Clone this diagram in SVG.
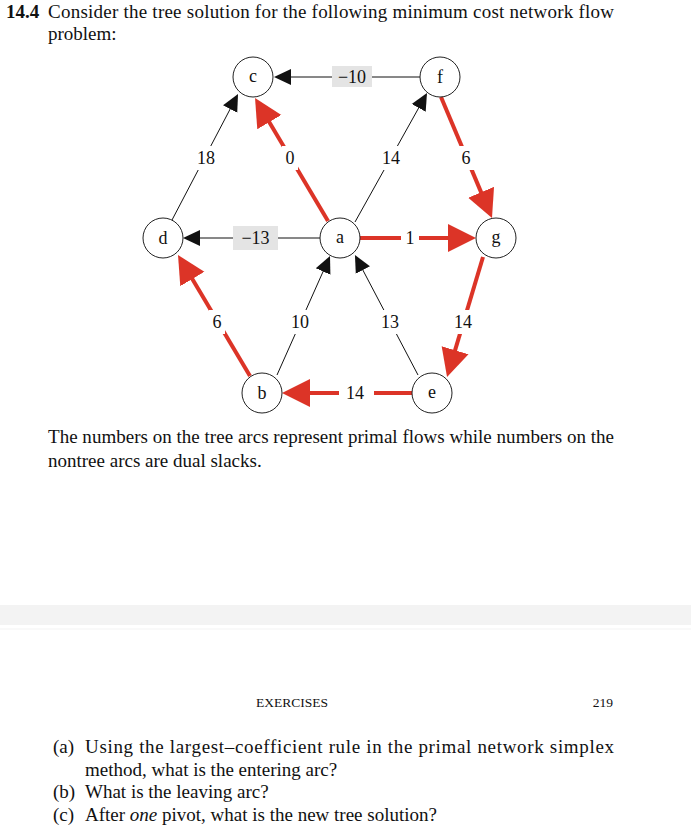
<svg xmlns="http://www.w3.org/2000/svg" width="691" height="828" viewBox="0 0 691 828">
<style>
text{font-family:"Liberation Serif","DejaVu Serif",serif;fill:#111;}
.body{font-size:19px;}
.lbl{font-size:18px;text-anchor:middle;}
.nd{font-size:18px;text-anchor:middle;}
.node circle{fill:#fff;stroke:#222;stroke-width:1;}
.blk{stroke:#111;stroke-width:1;fill:none;}
.red{stroke:#dc3427;stroke-width:4;fill:none;}
.bg{fill:#fff;}
.gbox{fill:#e4e4e4;}
</style>
<defs>
<marker id="ab" markerUnits="userSpaceOnUse" viewBox="0 -9 18 18" markerWidth="18" markerHeight="18" refX="1" refY="0" orient="auto">
<path d="M0,-8 L17,0 L0,8 z" fill="#111"/>
</marker>
<marker id="ar" markerUnits="userSpaceOnUse" viewBox="0 -15 30 30" markerWidth="30" markerHeight="30" refX="2" refY="0" orient="auto">
<path d="M0,-14 L28,0 L0,14 z" fill="#dc3427"/>
</marker>
</defs>
<rect width="691" height="828" fill="#fff"/>

<text class="body" x="6" y="18" font-weight="bold">14.4</text>
<text class="body" x="48" y="18" textLength="566" lengthAdjust="spacing">Consider the tree solution for the following minimum cost network flow</text>
<text class="body" x="48" y="40">problem:</text>

<g id="connectors">
<line class="blk" x1="172" y1="220" x2="230.6" y2="108.2" marker-end="url(#ab)"/>
<line class="red" x1="328" y1="221" x2="268.3" y2="120.4" marker-end="url(#ar)"/>
<line class="blk" x1="355" y1="222" x2="419.2" y2="107" marker-end="url(#ab)"/>
<line class="red" x1="441" y1="97" x2="481.9" y2="194.1" marker-end="url(#ar)"/>
<line class="blk" x1="420" y1="77" x2="290" y2="77" marker-end="url(#ab)"/>
<line class="blk" x1="320" y1="238" x2="199" y2="238" marker-end="url(#ab)"/>
<line class="red" x1="360" y1="238" x2="450" y2="238" marker-end="url(#ar)"/>
<line class="red" x1="250" y1="376" x2="191.3" y2="277.3" marker-end="url(#ar)"/>
<line class="blk" x1="277" y1="375" x2="323.5" y2="270.6" marker-end="url(#ab)"/>
<line class="blk" x1="418" y1="375" x2="362.4" y2="269.2" marker-end="url(#ab)"/>
<line class="red" x1="483" y1="257" x2="454.5" y2="352.1" marker-end="url(#ar)"/>
<line class="red" x1="412" y1="393" x2="308" y2="393" marker-end="url(#ar)"/>

<rect class="bg" x="195" y="146" width="22" height="24"/>
<text class="lbl" x="206" y="164">18</text>
<rect class="bg" x="282" y="146" width="16" height="24"/>
<text class="lbl" x="290" y="164">0</text>
<rect class="bg" x="380" y="146" width="22" height="24"/>
<text class="lbl" x="391" y="164">14</text>
<rect class="bg" x="458" y="146" width="16" height="24"/>
<text class="lbl" x="466" y="164">6</text>
<rect class="gbox" x="332" y="66" width="40" height="21"/>
<text class="lbl" x="352" y="83">−10</text>
<rect class="gbox" x="233" y="226" width="45" height="24"/>
<text class="lbl" x="255.5" y="244">−13</text>
<rect class="bg" x="401" y="226" width="18" height="24"/>
<text class="lbl" x="410" y="244">1</text>
<rect class="bg" x="209" y="310" width="16" height="24"/>
<text class="lbl" x="217" y="328">6</text>
<rect class="bg" x="289" y="310" width="22" height="24"/>
<text class="lbl" x="300" y="328">10</text>
<rect class="bg" x="379" y="310" width="22" height="24"/>
<text class="lbl" x="390" y="328">13</text>
<rect class="bg" x="452" y="310" width="22" height="24"/>
<text class="lbl" x="463" y="328">14</text>
<rect class="bg" x="339" y="381" width="35" height="24"/>
<text class="lbl" x="355" y="399">14</text>
</g>

<g id="node-c" class="node"><circle cx="253" cy="77" r="20"/><text class="nd" x="253" y="82">c</text></g>
<g id="node-f" class="node"><circle cx="440" cy="77" r="20"/><text class="nd" x="440" y="83">f</text></g>
<g id="node-d" class="node"><circle cx="163" cy="238" r="20"/><text class="nd" x="163" y="244">d</text></g>
<g id="node-a" class="node"><circle cx="340" cy="238" r="20"/><text class="nd" x="340" y="243">a</text></g>
<g id="node-g" class="node"><circle cx="496" cy="238" r="20"/><text class="nd" x="496" y="243">g</text></g>
<g id="node-b" class="node"><circle cx="262" cy="393" r="20"/><text class="nd" x="262" y="399">b</text></g>
<g id="node-e" class="node"><circle cx="432" cy="393" r="20"/><text class="nd" x="432" y="398">e</text></g>

<text class="body" x="48" y="443" textLength="566" lengthAdjust="spacing">The numbers on the tree arcs represent primal flows while numbers on the</text>
<text class="body" x="48" y="467">nontree arcs are dual slacks.</text>

<rect x="0" y="605" width="691" height="20" fill="#f3f3f3"/>
<rect x="0" y="628" width="691" height="2" fill="#f9f9f9"/>

<text x="292" y="707" font-size="13.5" text-anchor="middle">EXERCISES</text>
<text x="613" y="707" font-size="13.5" text-anchor="end">219</text>

<text class="body" x="53" y="753">(a)</text>
<text class="body" x="85" y="753" textLength="529" lengthAdjust="spacing">Using the largest–coefficient rule in the primal network simplex</text>
<text class="body" x="85" y="776">method, what is the entering arc?</text>
<text class="body" x="53" y="798">(b)</text>
<text class="body" x="85" y="798">What is the leaving arc?</text>
<text class="body" x="53" y="821">(c)</text>
<text class="body" x="85" y="821">After <tspan font-style="italic">one</tspan> pivot, what is the new tree solution?</text>
</svg>
